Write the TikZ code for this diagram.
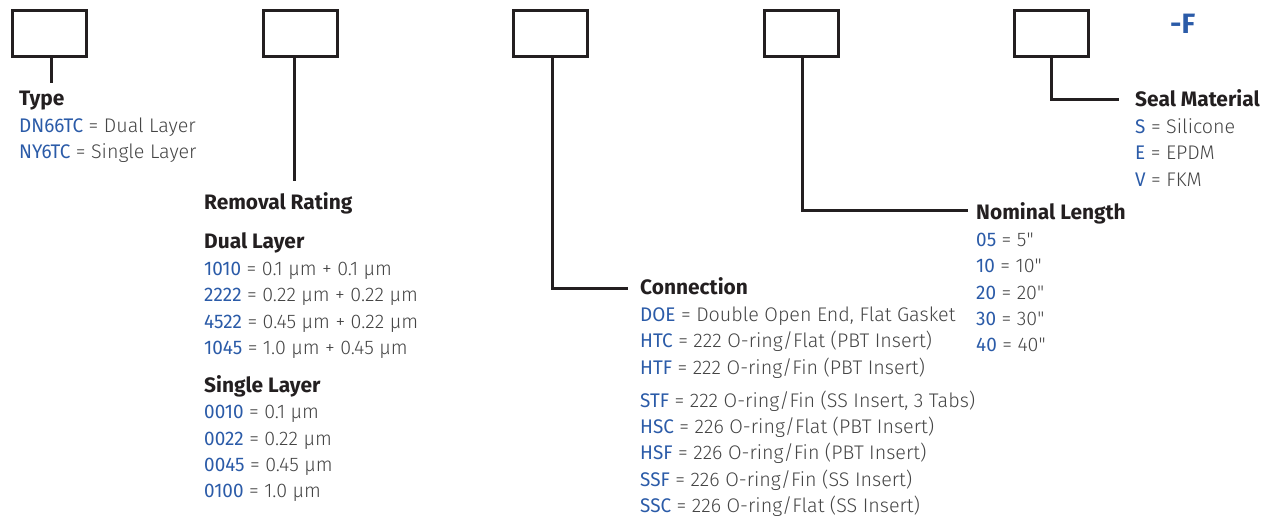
\documentclass[tikz,border=0pt]{standalone}
\usepackage{fontspec}
\setmainfont{Fira Sans}[UprightFont={* Light},BoldFont={* Bold}]
\newfontfamily\codefont{Fira Sans}[FakeStretch=0.96]
\definecolor{codeblue}{HTML}{2B5BA8}
\definecolor{txtgray}{HTML}{454545}
\definecolor{inkblack}{HTML}{231F20}
\newcommand\code[1]{{\codefont\color{codeblue}#1}}
\newcommand\inch{\XeTeXglyph\XeTeXcharglyph"22\relax}
\tikzset{
  box/.style={draw=inkblack, line width=3pt, minimum width=74pt, minimum height=46pt, inner sep=0pt, outer sep=0pt},
  leader/.style={draw=inkblack, line width=3pt},
  head/.style={anchor=base west, inner sep=0pt, font=\fontsize{20.9}{24}\selectfont\bfseries, text=inkblack},
  item/.style={anchor=base west, inner sep=0pt, font=\fontsize{19.7}{24}\selectfont, text=txtgray},
  suffix/.style={anchor=base west, inner sep=0pt, font=\fontsize{28}{32}\selectfont\bfseries, text=codeblue},
}
\begin{document}
\begin{tikzpicture}[x=1pt,y=-1pt]
\useasboundingbox (0,0) rectangle (1270,516);
% boxes
\node[box] (b1) at (49.5,33.5) {};
\node[box] (b2) at (300,33.5) {};
\node[box] (b3) at (550,33.5) {};
\node[box] (b4) at (801,33.5) {};
\node[box] (b5) at (1051,33.5) {};
\node[suffix] (sfx) at (1170,34) {-F};
% leader ends
\coordinate (e1) at (51,83);
\coordinate (e2) at (294,181);
\coordinate (e3) at (628,288);
\coordinate (e4) at (968,211);
\coordinate (e5) at (1119,100);
\draw[leader] (b1.south -| e1) -- (e1);
\draw[leader] (b2.south -| e2) -- (e2);
\draw[leader] (b3.south) ++(2,0) |- (e3);
\draw[leader] (b4.south) ++(1,0) |- (e4);
\draw[leader] (b5.south) |- (e5);
% Type
\node[head] (tH) at (19,106) {Type};
\node[item] (t1) at (19,133) {\code{DN66TC} = Dual Layer};
\node[item] (t2) at (19,159) {\code{NY6TC} = Single Layer};
% Removal rating
\node[head] (rH) at (204,210) {Removal Rating};
\node[head] (rD) at (204,248) {Dual Layer};
\node[item] (r1) at (204,275) {\code{1010} = 0.1 µm + 0.1 µm};
\node[item] (r2) at (204,301) {\code{2222} = 0.22 µm + 0.22 µm};
\node[item] (r3) at (204,328) {\code{4522} = 0.45 µm + 0.22 µm};
\node[item] (r4) at (204,354) {\code{1045} = 1.0 µm + 0.45 µm};
\node[head] (rS) at (204,392) {Single Layer};
\node[item] (r5) at (204,418) {\code{0010} = 0.1 µm};
\node[item] (r6) at (204,445) {\code{0022} = 0.22 µm};
\node[item] (r7) at (204,471) {\code{0045} = 0.45 µm};
\node[item] (r8) at (204,497) {\code{0100} = 1.0 µm};
% Connection
\node[head] (cH) at (640,294) {Connection};
\node[item] (c1) at (640,321) {\code{DOE} = Double Open End, Flat Gasket};
\node[item] (c2) at (640,347) {\code{HTC} = 222 O-ring/Flat (PBT Insert)};
\node[item] (c3) at (640,374) {\code{HTF} = 222 O-ring/Fin (PBT Insert)};
\node[item] (c4) at (640,407) {\code{STF} = 222 O-ring/Fin (SS Insert, 3 Tabs)};
\node[item] (c5) at (640,433) {\code{HSC} = 226 O-ring/Flat (PBT Insert)};
\node[item] (c6) at (640,459) {\code{HSF} = 226 O-ring/Fin (PBT Insert)};
\node[item] (c7) at (640,486) {\code{SSF} = 226 O-ring/Fin (SS Insert)};
\node[item] (c8) at (640,512) {\code{SSC} = 226 O-ring/Flat (SS Insert)};
% Nominal length
\node[head] (nH) at (976,219) {Nominal Length};
\node[item] (n1) at (976,246) {\code{05} = 5\inch};
\node[item] (n2) at (976,272) {\code{10} = 10\inch};
\node[item] (n3) at (976,299) {\code{20} = 20\inch};
\node[item] (n4) at (976,325) {\code{30} = 30\inch};
\node[item] (n5) at (976,351) {\code{40} = 40\inch};
% Seal material
\node[head] (sH) at (1135,107) {Seal Material};
\node[item] (s1) at (1135,134) {\code{S} = Silicone};
\node[item] (s2) at (1135,160) {\code{E} = EPDM};
\node[item] (s3) at (1135,186) {\code{V} = FKM};
\end{tikzpicture}
\end{document}
